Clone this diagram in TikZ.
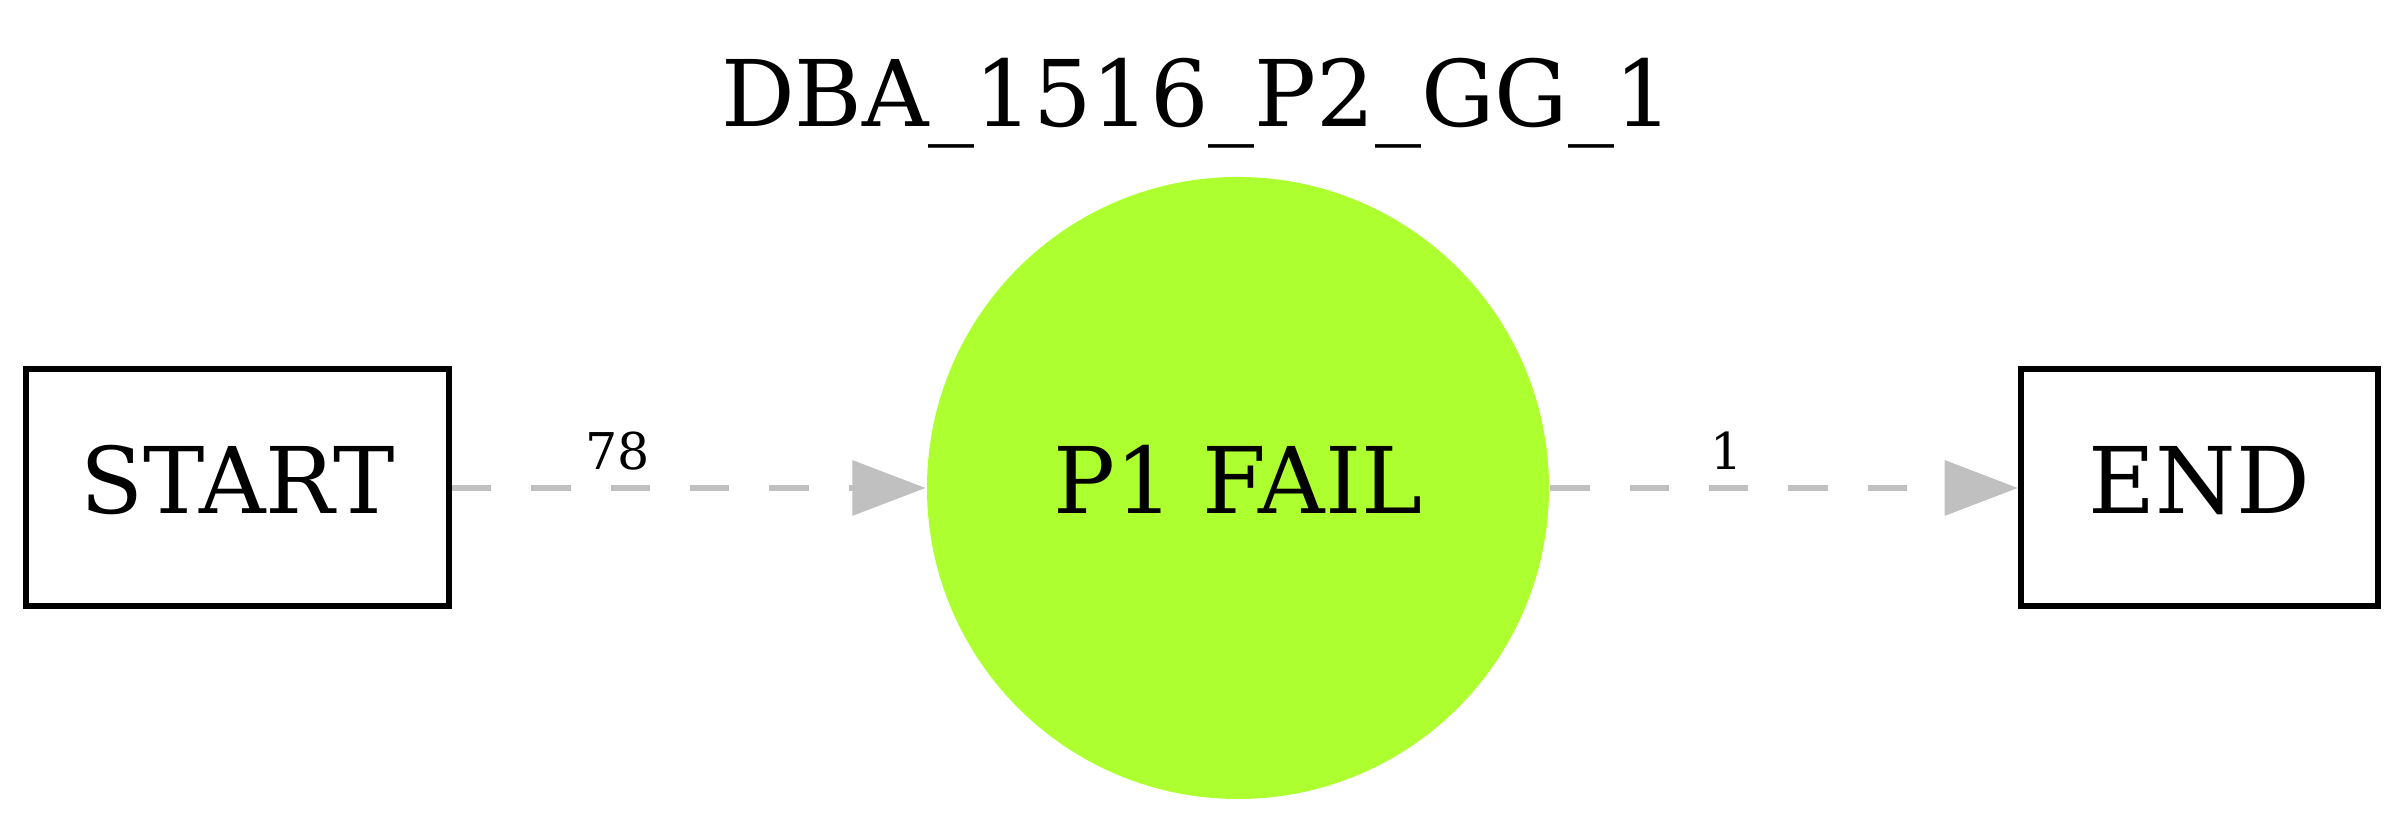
\documentclass[tikz,border=0pt]{standalone}
\usepackage{fontspec}
\setmainfont{DejaVu Serif}
\usetikzlibrary{arrows.meta}
\definecolor{edgegray}{HTML}{C0C0C0}
\definecolor{nodegreen}{HTML}{ADFF2F}
\begin{document}
\begin{tikzpicture}[x=0.15pt,y=-0.15pt,
  nodefont/.style={font=\fontsize{13.8}{16}\selectfont},
  boxnode/.style={draw=black,line width=0.9pt,rectangle,inner sep=0pt,nodefont,
    text height=10pt,text depth=2.2pt,minimum height=35.55pt},
  statenode/.style={circle,fill=nodegreen,draw=none,inner sep=0pt,nodefont,
    text height=10pt,text depth=2.2pt,minimum size=93.3pt},
  edgestyle/.style={draw=edgegray,line width=1pt,dash pattern=on 5.9pt off 6pt,
    -{Triangle[length=11pt,width=8.1pt,fill=edgegray]}},
  edgelabel/.style={font=\fontsize{7.6}{9}\selectfont,anchor=base,inner sep=0pt},
]
\useasboundingbox (0,0) rectangle (2400,822);
\node[nodefont,anchor=base,inner sep=0pt] (title) at (1197,126.7) {DBA\_1516\_P2\_GG\_1};
\node[boxnode,minimum width=63.45pt] (start) at (237.5,488) {START};
\node[statenode] (fail) at (1238,488) {P1 FAIL};
\node[boxnode,minimum width=53.55pt] (end) at (2199.5,488) {END};
\draw[edgestyle] (start) -- (fail);
\draw[edgestyle] (fail) -- (end);
\node[edgelabel] (l78) at (618,470) {78};
\node[edgelabel] (l1) at (1727,470) {1};
\end{tikzpicture}
\end{document}
